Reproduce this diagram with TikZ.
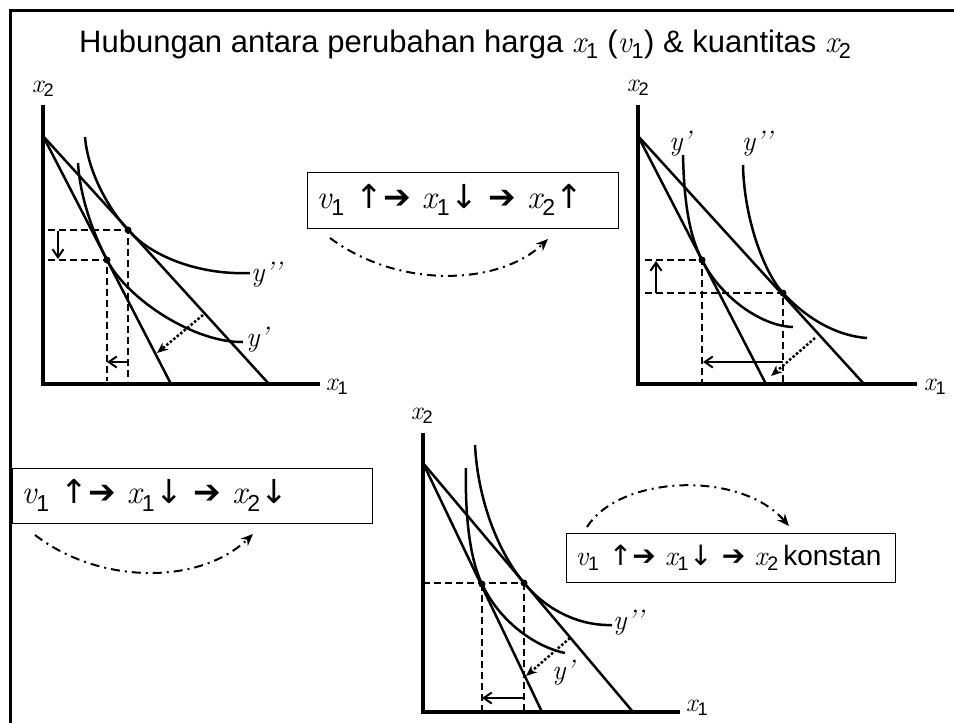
\documentclass[tikz,border=0pt]{standalone}
\usepackage{fontspec}
\setmainfont{Liberation Sans}
\newfontfamily\djv{DejaVu Sans}
\newfontfamily\lmit{Latin Modern Roman}[UprightFont=*/I]
\usetikzlibrary{arrows.meta}
\newcommand\vx[1]{{\lmit\itshape x}\textsubscript{#1}}
\newcommand\vv[1]{{\lmit\itshape v}\textsubscript{#1}}
\newcommand\yy[1]{{\lmit\itshape y#1}}
\newcommand\upa{{\djv ↑}}
\newcommand\dna{{\djv ↓}}
\newcommand\rta{{\djv ➔}}
\begin{document}
\begin{tikzpicture}[x=1pt,y=-1pt,
  axis/.style={line width=4pt},
  curve/.style={line width=2.5pt},
  bline/.style={line width=2.5pt},
  guide/.style={line width=1.5pt, dash pattern=on 7pt off 4pt},
  shiftarrow/.style={line width=2pt, -{Straight Barb[length=8pt,width=11pt,line width=2pt]}},
  dotarrow/.style={line width=2.5pt, dotted, -{Stealth[length=11pt,width=9pt]}},
  dashdot/.style={line width=2pt, dash pattern=on 9pt off 5pt on 2pt off 5pt, -{Stealth[length=12pt,width=10pt]}},
  box/.style={draw, line width=1pt, inner ysep=0pt, inner xsep=9pt, align=left, anchor=west},
  lab/.style={font=\fontsize{28}{30}\selectfont, inner sep=0pt},
  axlab/.style={font=\fontsize{26}{28}\selectfont, inner sep=0pt},
  dot/.style={circle, fill, inner sep=0pt, minimum size=7pt}
]
\useasboundingbox (0,0) rectangle (954,723);
% frame
\draw[line width=3pt] (10,723) -- (10,10) -- (954,10);
% title
\node[font=\fontsize{31}{34}\selectfont, inner sep=0pt, anchor=base west] (title) at (79,52)
  {Hubungan antara perubahan harga \vx{1} (\vv{1}) \& kuantitas \vx{2}};

%%%%% Graph 1 (top left)
\coordinate (g1o) at (43,384);
\draw[axis] (43,105) -- (g1o) -- (320,384);
\node[axlab] (g1x2) at (43,89) {\vx{2}};
\node[axlab] (g1x1) at (337,387) {\vx{1}};
\coordinate (g1top) at (43,136);
\coordinate (g1s) at (171,384);
\coordinate (g1f) at (269,384);
\draw[bline] (g1top) -- (g1s);
\draw[bline] (g1top) -- (g1f);
\node[dot] (g1d2) at (128,230) {};
\node[dot] (g1d1) at (107,260) {};
\draw[guide] (48,230) -- (g1d2.center) -- (128,381);
\draw[guide] (48,260) -- (g1d1.center) -- (107,381);
% y''
\draw[curve] (85,137) .. controls (88,172) and (108,208) .. (g1d2.center)
  .. controls (155,260) and (205,275) .. (250,273);
% y'
\draw[curve] (78,163) .. controls (80,197) and (93,233) .. (g1d1.center)
  .. controls (128,300) and (195,343) .. (243,342);
\node[lab, anchor=west] (g1y2) at (251,275) {\yy{’’}};
\node[lab, anchor=west] (g1y1) at (246,340) {\yy{’}};
\draw[shiftarrow] (58,231) -- (58,259);
\draw[shiftarrow] (128,362) -- (107,362);
\coordinate (g1p) at (203,315);
\coordinate (g1q) at (157,353);
\draw[dotarrow] (g1p) -- (g1q);

%%%%% Box 1
\node[box, minimum width=311pt, minimum height=56pt, text width=293pt,
  font=\fontsize{33}{35}\selectfont] (box1) at (307,200)
  {\vv{1} \upa\rta{} \vx{1}\dna{} \rta{} \vx{2}\upa};
\coordinate (b1s) at (330,238);
\coordinate (b1e) at (548,239);
\draw[dashdot] (b1s) .. controls (400,290) and (500,285) .. (b1e);

%%%%% Graph 2 (top right)
\coordinate (g2o) at (638,384);
\draw[axis] (638,105) -- (g2o) -- (917,384);
\node[axlab] (g2x2) at (638,88) {\vx{2}};
\node[axlab] (g2x1) at (935,387) {\vx{1}};
\coordinate (g2top) at (638,136);
\coordinate (g2s) at (766,384);
\coordinate (g2f) at (864,384);
\draw[bline] (g2top) -- (g2s);
\draw[bline] (g2top) -- (g2f);
\node[dot] (g2d1) at (702,260) {};
\node[dot] (g2d2) at (783,293) {};
\draw[guide] (645,260) -- (g2d1.center) -- (702,384);
\draw[guide] (645,293) -- (g2d2.center) -- (783,384);
% y'
\draw[curve] (683,155) .. controls (684,197) and (688,233) .. (g2d1.center)
  .. controls (720,296) and (760,326) .. (793,327);
% y''
\draw[curve] (743,165) .. controls (744,217) and (763,271) .. (g2d2.center)
  .. controls (808,320) and (838,336) .. (867,338);
\node[lab] (g2y1) at (680,144) {\yy{’}};
\node[lab] (g2y2) at (757,144) {\yy{’’}};
\draw[shiftarrow] (656,293) -- (656,261);
\draw[shiftarrow] (783,362) -- (703,362);
\coordinate (g2p) at (815,338);
\coordinate (g2q) at (771,376);
\draw[dotarrow] (g2p) -- (g2q);

%%%%% Box 2
\node[box, minimum width=360pt, minimum height=55pt, text width=342pt,
  font=\fontsize{33}{35}\selectfont] (box2) at (12,495.5)
  {\vv{1} \upa\rta{} \vx{1}\dna{} \rta{} \vx{2}\dna};
\coordinate (b2s) at (35,535);
\coordinate (b2e) at (253,534);
\draw[dashdot] (b2s) .. controls (100,585) and (200,585) .. (b2e);

%%%%% Graph 3 (bottom)
\coordinate (g3o) at (423,712);
\draw[axis] (423,433) -- (g3o) -- (680,712);
\node[axlab] (g3x2) at (422,416) {\vx{2}};
\node[axlab] (g3x1) at (697,708) {\vx{1}};
\coordinate (g3top) at (423,463);
\coordinate (g3s) at (542,712);
\coordinate (g3f) at (633,712);
\draw[bline] (g3top) -- (g3s);
\draw[bline] (g3top) -- (g3f);
\node[dot] (g3d1) at (482,584) {};
\node[dot] (g3d2) at (524,583) {};
\draw[guide] (423,583) -- (g3d2.center);
\draw[guide] (g3d1.center) -- (482,712);
\draw[guide] (g3d2.center) -- (524,712);
% y'
\draw[curve] (466,468) .. controls (465,512) and (469,557) .. (g3d1.center)
  .. controls (502,626) and (540,648) .. (565,653);
% y''
\draw[curve] (475,445) .. controls (478,502) and (499,553) .. (g3d2.center)
  .. controls (549,613) and (583,626) .. (612,625);
\node[lab, anchor=west] (g3y2) at (613,623) {\yy{’’}};
\node[lab, anchor=west] (g3y1) at (552,673) {\yy{’}};
\draw[shiftarrow] (524,698) -- (482,698);
\coordinate (g3p) at (570,638);
\coordinate (g3q) at (526,676);
\draw[dotarrow] (g3p) -- (g3q);

%%%%% Box 3
\node[box, minimum width=329pt, minimum height=49pt, text width=311pt,
  font=\fontsize{28}{30}\selectfont] (box3) at (566,557.5)
  {\vv{1} \upa\rta{} \vx{1}\dna{} \rta{} \vx{2}\,konstan};
\coordinate (b3s) at (587,527);
\coordinate (b3e) at (789,526);
\draw[dashdot] (b3s) .. controls (620,475) and (740,470) .. (b3e);
\end{tikzpicture}
\end{document}
